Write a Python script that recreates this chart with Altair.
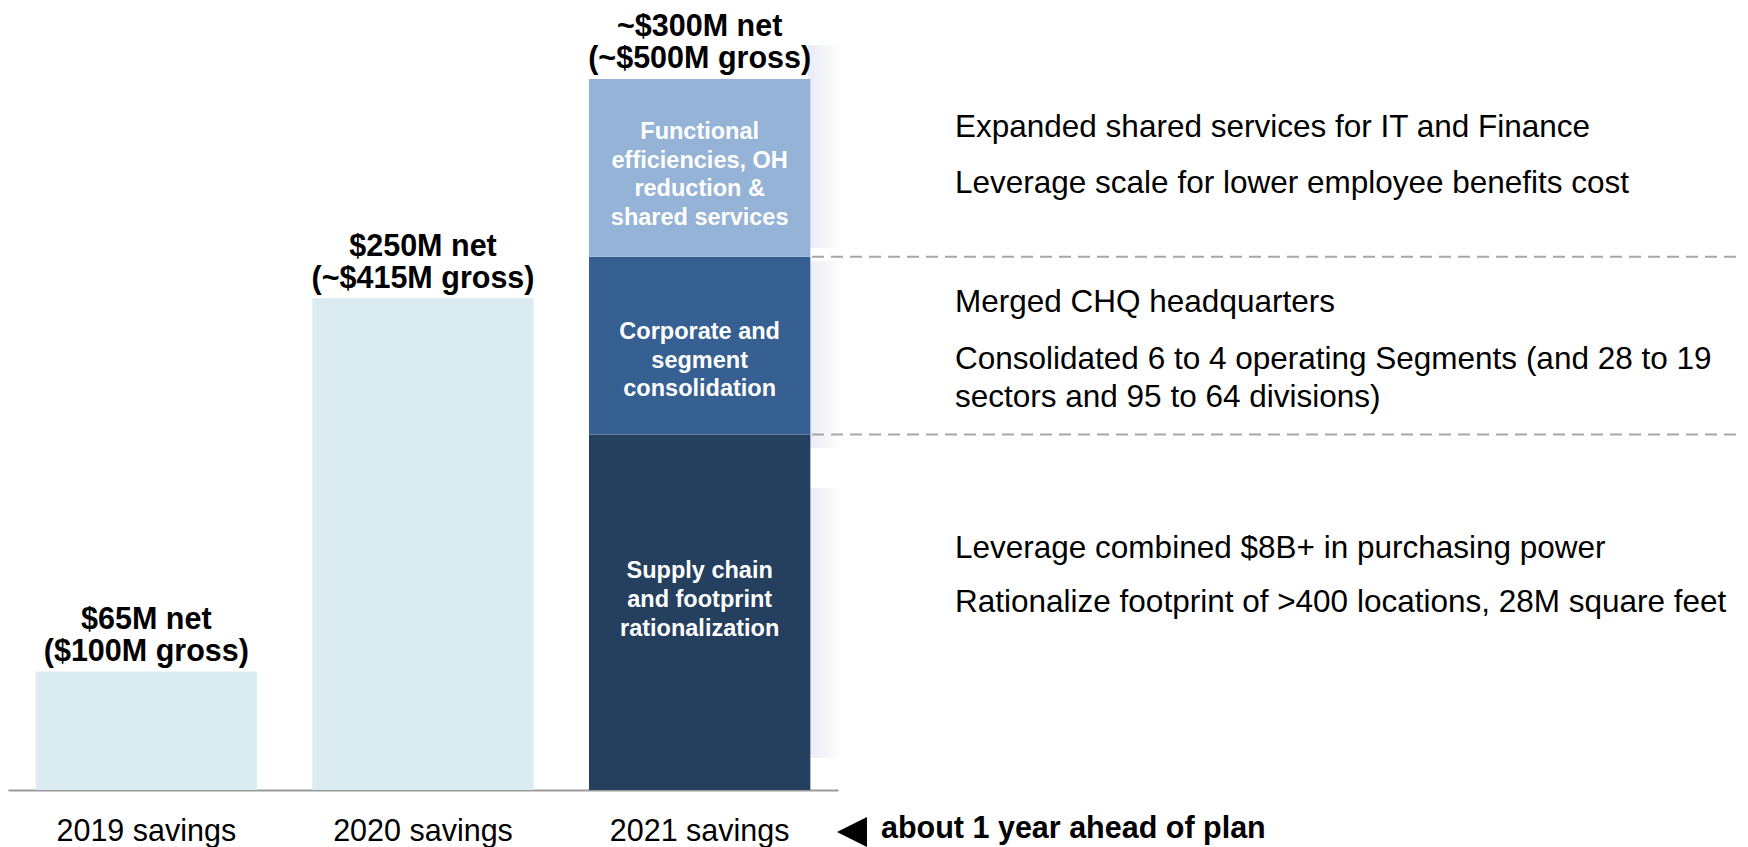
import altair as alt
import pandas as pd

# ---- data ----
years = ["2019 savings", "2020 savings", "2021 savings"]
simple_bar_values = [100, 415]          # 2019, 2020 bar heights (gross, $M)
value_labels = ["$65M net\n($100M gross)", "$250M net\n(~$415M gross)", "~$300M net\n(~$500M gross)"]
seg_names = ["Supply chain\nand footprint\nrationalization",
             "Corporate and\nsegment\nconsolidation",
             "Functional\nefficiencies,  OH\nreduction &\nshared services"]
seg_values = [300, 150, 150]            # 2021 stacked segments (visual height)
seg_colors = ["#253F5F", "#366092", "#95B3D7"]
light_bar_color = "#DAECF2"
notes_top = "Expanded shared services for IT and Finance\nLeverage scale for lower employee benefits cost"
notes_mid1 = "Merged CHQ headquarters"
notes_mid2 = "Consolidated 6 to 4 operating Segments (and 28 to 19\nsectors and 95 to 64 divisions)"
notes_bot = "Leverage combined $8B+ in purchasing power\nRationalize footprint of >400 locations, 28M square feet"
ahead_text = "about 1 year ahead of plan"

FONT = "Liberation Sans"
W, H = 1732, 782
YMAX = 660

# ---- tables built from the arrays ----
rows = []
for yr, v in zip(years[:2], simple_bar_values):
    rows.append({"year": yr, "start": 0, "end": v, "color": light_bar_color, "seg": ""})
cum = 0
for name, v, c in zip(seg_names, seg_values, seg_colors):
    rows.append({"year": years[2], "start": cum, "end": cum + v, "color": c, "seg": name})
    cum += v
bars_df = pd.DataFrame(rows)

totals = simple_bar_values + [sum(seg_values)]
tops_df = pd.DataFrame({"year": years, "total": totals, "label": value_labels})
bounds_df = pd.DataFrame({"v": [seg_values[0], seg_values[0] + seg_values[1]]})

xscale = alt.Scale(domain=years, range=[0, 830], paddingInner=0.2, paddingOuter=0.1)
yscale = alt.Scale(domain=[0, YMAX], nice=False, zero=True)

xenc = alt.X("year:N", scale=xscale, sort=years,
             axis=alt.Axis(title=None, ticks=False, tickSize=0, domain=True,
                           domainColor="#9A9A9A", domainWidth=2,
                           labelFont=FONT, labelFontSize=30.5, labelColor="black",
                           labelPadding=41, labelBaseline="middle", labelAngle=0,
                           labelLimit=0))

bars = alt.Chart(bars_df).mark_bar().encode(
    x=xenc,
    y=alt.Y("start:Q", scale=yscale, axis=None),
    y2="end:Q",
    color=alt.Color("color:N", scale=None),
)

# Vega lays multi-line text downward from the anchor: shift the block up
TOP_FS, TOP_LH = 30.5, 32
top_labels = alt.Chart(tops_df).mark_text(
    font=FONT, fontSize=TOP_FS, fontWeight="bold", color="black",
    lineBreak="\n", lineHeight=TOP_LH, baseline="bottom",
    dy=-11 - TOP_LH + 0.21 * TOP_FS, align="center",
).encode(
    x=alt.X("year:N", scale=xscale, sort=years),
    y=alt.Y("total:Q", scale=yscale, axis=None),
    text="label:N",
)

LH_IN = 28.8
seg_center_dys = [-12, 15, 7]
seg_layers = []
seg_df = bars_df[bars_df["seg"] != ""].copy()
seg_df["mid"] = (seg_df["start"] + seg_df["end"]) / 2
for i, name in enumerate(seg_names):
    n_lines = name.count("\n") + 1
    seg_layers.append(
        alt.Chart(seg_df[seg_df["seg"] == name]).mark_text(
            font=FONT, fontSize=23.5, fontWeight="bold", color="white",
            lineBreak="\n", lineHeight=LH_IN, baseline="middle", align="center",
            dy=seg_center_dys[i] - (n_lines - 1) * LH_IN / 2,
        ).encode(
            x=alt.X("year:N", scale=xscale, sort=years),
            y=alt.Y("mid:Q", scale=yscale, axis=None),
            text="seg:N",
        )
    )

one = pd.DataFrame({"a": [0]})

fade = alt.Gradient(gradient="linear",
                    stops=[alt.GradientStop(color="#E9ECF6", offset=0),
                           alt.GradientStop(color="#FFFFFF", offset=1)],
                    x1=0, x2=1, y1=0, y2=0)
wedges = [
    alt.Chart(one).mark_rect(color=fade).encode(
        x=alt.value(800), x2=alt.value(834), y=alt.value(y0), y2=alt.value(y1))
    for y0, y1 in [(37, 240), (253, 440), (480, 750)]
]

dashes = alt.Chart(bounds_df).mark_rule(
    color="#A6A6A6", strokeWidth=2, strokeDash=[12, 7]
).encode(
    y=alt.Y("v:Q", scale=yscale, axis=None),
    x=alt.value(804), x2=alt.value(W),
)

def note(text, y, lh):
    return alt.Chart(one).mark_text(
        font=FONT, fontSize=31.5, color="black", align="left", baseline="middle",
        lineBreak="\n", lineHeight=lh,
    ).encode(x=alt.value(947), y=alt.value(y), text=alt.value(text))

notes = [
    note(notes_top, 120, 56),
    note(notes_mid1, 295, 38),
    note(notes_mid2, 352, 38),
    note(notes_bot, 541, 54),
]

tri = alt.Chart(one).mark_point(
    shape="M1,-1L1,1L-1,0Z", filled=True, color="black", opacity=1, size=900, strokeWidth=0
).encode(x=alt.value(844), y=alt.value(824))

ahead = alt.Chart(one).mark_text(
    font=FONT, fontSize=30.5, fontWeight="bold", color="black", align="left", baseline="middle"
).encode(x=alt.value(873), y=alt.value(821), text=alt.value(ahead_text))

chart = alt.layer(*wedges, bars, *seg_layers, top_labels, dashes, *notes, tri, ahead).properties(
    width=W, height=H,
    autosize=alt.AutoSizeParams(type="none"),
    padding={"left": 0, "top": 0, "right": 0, "bottom": 57},
).configure(background="white").configure_view(stroke=None)

chart.save("out.html", embed_options={"renderer": "svg", "actions": False})
